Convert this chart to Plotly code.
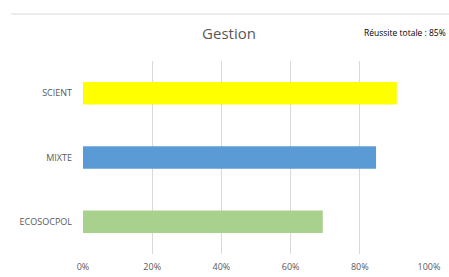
import plotly.graph_objects as go

categories = ["ECOSOCPOL", "MIXTE", "SCIENT"]
values = [0.693, 0.847, 0.907]
colors = ["#A9D18E", "#5B9BD5", "#FFFF00"]
tick_vals = [0, 0.2, 0.4, 0.6, 0.8, 1.0]
tick_text = ["0%", "20%", "40%", "60%", "80%", "100%"]
title_text = "Gestion"
note_text = "Réussite totale : 85%"

W, H = 449, 277
ml, mr, mt, mb = 83, 20, 61, 23
pw = W - ml - mr
ph = H - mt - mb

fig = go.Figure(go.Bar(
    y=categories, x=values, orientation="h",
    marker=dict(color=colors, line=dict(width=0)),
    width=0.35, hoverinfo="skip",
))

fig.update_layout(
    width=W, height=H,
    margin=dict(l=ml, r=mr, t=mt, b=mb, autoexpand=False),
    paper_bgcolor="white", plot_bgcolor="white",
    showlegend=False,
    font=dict(family="Open Sans, sans-serif", color="#595959"),
    title=dict(text=title_text, x=229 / W, xref="container", xanchor="center",
               y=1 - 34 / H, yref="container", yanchor="middle",
               font=dict(size=15, color="#595959")),
    xaxis=dict(range=[0, 1.0], tickvals=tick_vals, ticktext=tick_text,
               showgrid=True, gridcolor="#d9d9d9", gridwidth=1,
               zeroline=False, showline=False, ticks="", automargin=False,
               tickfont=dict(size=9, color="#595959"), ticklabelstandoff=6,
               fixedrange=True),
    yaxis=dict(range=[-0.5, 2.5], showgrid=False, zeroline=False, showline=False,
               ticks="", tickfont=dict(size=9, color="#595959"), automargin=False,
               ticklabelstandoff=10, fixedrange=True),
    annotations=[dict(text=note_text, xref="paper", yref="paper",
                      x=(448 - ml) / pw, y=1 + (mt - 33) / ph,
                      xanchor="right", yanchor="middle", showarrow=False,
                      font=dict(size=8.5, color="#000000"))],
    shapes=[dict(type="line", xref="paper", yref="paper",
                 x0=(11 - ml) / pw, x1=(449 - ml) / pw,
                 y0=1 + (mt - 14) / ph, y1=1 + (mt - 14) / ph,
                 line=dict(color="#d9d9d9", width=1))],
)

fig.write_html("out.html", config={"displayModeBar": False},
               post_script="document.body.style.margin='0';document.body.style.overflow='hidden';")
